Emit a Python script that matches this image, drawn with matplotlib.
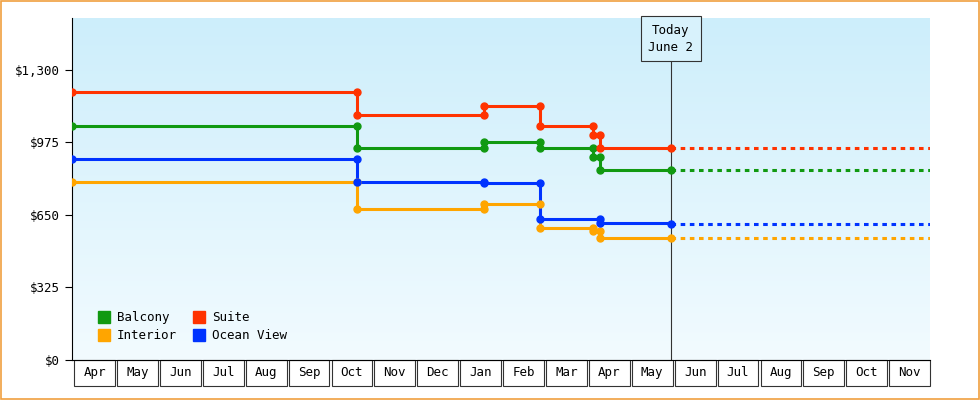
import matplotlib
matplotlib.use("Agg")
import matplotlib.pyplot as plt
import numpy as np
from matplotlib.patches import Rectangle

# x in months since Apr 1 (year 1)
months = ["Apr", "May", "Jun", "Jul", "Aug", "Sep", "Oct", "Nov", "Dec", "Jan",
          "Feb", "Mar", "Apr", "May", "Jun", "Jul", "Aug", "Sep", "Oct", "Nov"]
today_x = 13.96
end_x = 20.0

suite_x = [0.0, 6.65, 9.6, 10.9, 12.15, 12.3]
suite_p = [1200, 1100, 1140, 1050, 1010, 950]
balcony_x = [0.0, 6.65, 9.6, 10.9, 12.15, 12.3]
balcony_p = [1050, 950, 975, 950, 910, 850]
ocean_x = [0.0, 6.65, 9.6, 10.9, 12.3]
ocean_p = [900, 800, 795, 630, 615]
ocean_today = 610
interior_x = [0.0, 6.65, 9.6, 10.9, 12.15, 12.3]
interior_p = [800, 675, 700, 590, 580, 545]

series = [("Balcony", "#119911", balcony_x, balcony_p, None),
          ("Interior", "#ffa500", interior_x, interior_p, None),
          ("Suite", "#ff3300", suite_x, suite_p, None),
          ("Ocean View", "#0033ff", ocean_x, ocean_p, ocean_today)]

plt.rcParams["font.family"] = ["DejaVu Sans Mono"]
fig = plt.figure(figsize=(9.8, 4), dpi=100)
fig.patch.set_facecolor("white")
fig.patches.append(Rectangle((0.001, 0.002), 0.998, 0.996, transform=fig.transFigure,
                             fill=False, edgecolor="#f0a040", linewidth=1.2))
ax = fig.add_axes([0.0735, 0.1, 0.8755, 0.855])
ymax = 1533
ax.set_xlim(0, end_x)
ax.set_ylim(0, ymax)

grad = np.linspace(0, 1, 256).reshape(-1, 1)
cmap = matplotlib.colors.LinearSegmentedColormap.from_list("bg", ["#f2fbff", "#cdeefb"])
ax.imshow(grad, extent=[0, end_x, 0, ymax], origin="lower", aspect="auto", cmap=cmap, zorder=0)

handles = []
for name, color, xs, ps, last in series:
    px = list(xs) + [today_x]
    pp = list(ps) + [last if last is not None else ps[-1]]
    ax.step(px, pp, where="post", color=color, linewidth=2.2, zorder=3)
    mx, my = [xs[0]], [ps[0]]
    for i in range(1, len(xs)):
        mx += [xs[i], xs[i]]
        my += [ps[i - 1], ps[i]]
    mx.append(today_x)
    my.append(pp[-1])
    ax.plot(mx, my, "o", color=color, markersize=5, zorder=4)
    ax.plot([today_x, end_x], [pp[-1], pp[-1]], color=color, linewidth=2.2,
            linestyle=(0, (1.5, 1.5)), zorder=3)
    handles.append(plt.Line2D([], [], marker="s", color=color, linestyle="none",
                              markersize=8, label=name))

ax.axvline(today_x, ymax=1500 / ymax, color="#333333", linewidth=0.8, zorder=2)
ax.text(today_x, 1440, "Today\nJune 2", ha="center", va="center", fontsize=9,
        linespacing=1.4,
        bbox=dict(boxstyle="square,pad=0.6", facecolor="#d8f2fc", edgecolor="#333333",
                  linewidth=0.8), zorder=5)

ax.set_yticks([0, 325, 650, 975, 1300])
ax.set_yticklabels(["$0", "$325", "$650", "$975", "$1,300"], fontsize=9)
ax.set_xticks([])
for s in ["top", "right"]:
    ax.spines[s].set_visible(False)
ax.tick_params(axis="y", length=5)

tr = ax.get_xaxis_transform()
for i, m in enumerate(months):
    ax.add_patch(Rectangle((i + 0.05, -0.075), 0.95, 0.075, transform=tr, clip_on=False,
                           facecolor="white", edgecolor="#333333", linewidth=0.8))
    ax.text(i + 0.525, -0.0375, m, transform=tr, ha="center", va="center", fontsize=9)

ax.legend(handles=handles, loc="lower left", ncol=2, frameon=False, fontsize=9,
          handletextpad=0.0, columnspacing=0.8, labelspacing=0.4,
          bbox_to_anchor=(0.01, 0.02))

fig.savefig("out.png", dpi=100)
